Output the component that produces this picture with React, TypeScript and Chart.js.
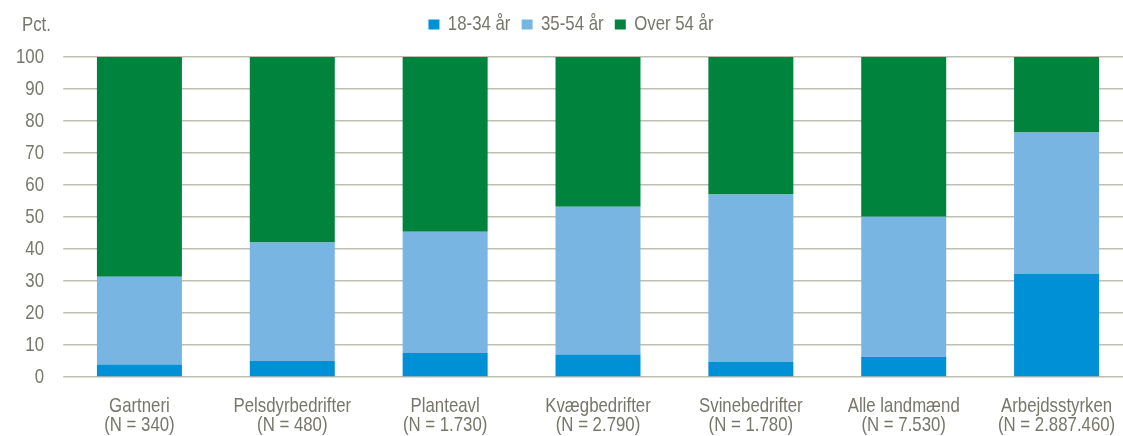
import React, { useEffect, useRef } from "react";
import { Chart, registerables } from "chart.js";

Chart.register(...registerables);

const categories: string[][] = [
  ["Gartneri", "(N = 340)"],
  ["Pelsdyrbedrifter", "(N = 480)"],
  ["Planteavl", "(N = 1.730)"],
  ["Kvægbedrifter", "(N = 2.790)"],
  ["Svinebedrifter", "(N = 1.780)"],
  ["Alle landmænd", "(N = 7.530)"],
  ["Arbejdsstyrken", "(N = 2.887.460)"],
];

const age18to34: number[] = [3.9, 5.0, 7.5, 7.0, 4.8, 6.3, 32.3];
const age35to54: number[] = [27.4, 37.0, 37.9, 46.2, 52.2, 43.8, 44.1];
const over54: number[] = [68.7, 58.0, 54.6, 46.8, 43.0, 49.9, 23.6];

const seriesNames: string[] = ["18-34 år", "35-54 år", "Over 54 år"];
const seriesColors: string[] = ["#0090D5", "#78B5E3", "#00843D"];
const yTicks: number[] = [0, 10, 20, 30, 40, 50, 60, 70, 80, 90, 100];
const yUnit = "Pct.";

// narrow-font emulation: draw with Liberation Sans, condensed horizontally
const SX = 0.8;
const FS = 21;
const FONT = "'Liberation Sans', Arial, sans-serif";
const TEXT = "#76766A";
const GRID = "#BEBEB2";
const CANVAS_W = 1420;
const PAD_L = 11.25;
const PAD_R = CANVAS_W - 1133 / SX;

export default function App() {
  const ref = useRef<HTMLCanvasElement | null>(null);

  useEffect(() => {
    if (!ref.current) return;
    const condensePlugin = {
      id: "condense",
      beforeDraw(chart: any) {
        chart.ctx.save();
        chart.ctx.scale(SX, 1);
      },
      afterDraw(chart: any) {
        const ctx = chart.ctx;
        ctx.save();
        ctx.font = `${FS}px ${FONT}`;
        ctx.fillStyle = TEXT;
        ctx.textAlign = "left";
        ctx.textBaseline = "middle";
        ctx.fillText(yUnit, 22 / SX, 25.5);
        ctx.restore();
        ctx.restore();
      },
    };
    const data = [age18to34, age35to54, over54];
    const chart = new Chart(ref.current, {
      type: "bar",
      data: {
        labels: categories,
        datasets: seriesNames.map((name, i) => ({
          label: name,
          data: data[i],
          backgroundColor: seriesColors[i],
          borderWidth: 0,
          barPercentage: 0.556,
          categoryPercentage: 1,
        })),
      },
      options: {
        animation: false,
        responsive: false,
        maintainAspectRatio: false,
        layout: { padding: { top: 0, right: PAD_R, left: PAD_L, bottom: 0 } },
        plugins: {
          legend: {
            display: true,
            position: "top",
            labels: {
              font: { family: FONT, size: FS },
              color: TEXT,
              boxWidth: 11 / SX,
              boxHeight: 10,
              padding: 14,
            },
          },
          title: {
            display: true,
            position: "top",
            weight: 500,
            text: " ",
            color: "rgba(0,0,0,0)",
            font: { size: 1, lineHeight: 1 },
            padding: { top: 0, bottom: 11 },
          },
          tooltip: { enabled: false },
        },
        scales: {
          x: {
            stacked: true,
            grid: { display: false, drawTicks: false },
            border: { display: false },
            ticks: {
              font: { family: FONT, size: FS, lineHeight: 0.93 },
              color: TEXT,
              padding: 19,
              maxRotation: 0,
              autoSkip: false,
            },
            afterFit(scale: any) {
              scale.height = 59;
            },
          },
          y: {
            stacked: true,
            min: 0,
            max: 100,
            afterBuildTicks(scale: any) {
              scale.ticks = yTicks.map((v) => ({ value: v }));
            },
            grid: { color: GRID, lineWidth: 1.5, drawTicks: false },
            border: { display: false },
            ticks: {
              font: { family: FONT, size: FS },
              color: TEXT,
              padding: 19 / SX,
            },
            afterFit(scale: any) {
              scale.width = 63 / SX - PAD_L;
            },
          },
        },
      },
      plugins: [condensePlugin],
    });
    return () => chart.destroy();
  }, []);

  return (
    <div
      style={{
        position: "fixed",
        left: 0,
        top: 0,
        width: 1123,
        height: 436,
        overflow: "hidden",
        background: "#fff",
      }}
    >
      <canvas ref={ref} width={CANVAS_W} height={436} style={{ display: "block" }} />
    </div>
  );
}
